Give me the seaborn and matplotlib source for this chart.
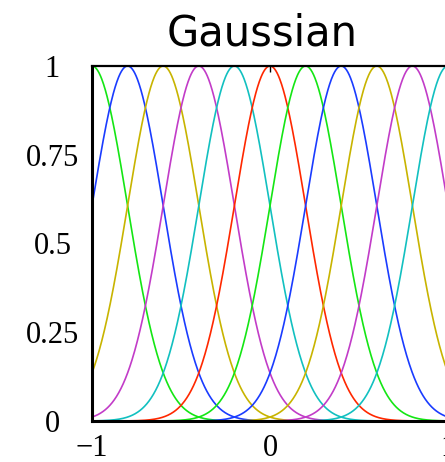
import numpy as np
import pandas as pd
import matplotlib
matplotlib.use("Agg")
import matplotlib.pyplot as plt
import seaborn as sns

# Chart data: Gaussian basis functions
centers = [-1.0, -0.8, -0.6, -0.4, -0.2, 0.0, 0.2, 0.4, 0.6, 0.8, 1.0]
sigma = 0.2
colors = ['#14e614', '#1a3cff', '#c8b400', '#c23cc8', '#12c0c0', '#ff2800',
          '#14e614', '#1a3cff', '#c8b400', '#c23cc8', '#12c0c0']
x_ticks = [-1, 0, 1]
x_tick_labels = ['\u22121', '0', '1']
y_ticks = [0, 0.25, 0.5, 0.75, 1]
y_tick_labels = ['0', '0.25', '0.5', '0.75', '1']
title = 'Gaussian'

xs = np.linspace(-1, 1, 801)
rows = []
for i, c in enumerate(centers):
    ys = np.exp(-(xs - c) ** 2 / (2 * sigma ** 2))
    rows.append(pd.DataFrame({'x': xs, 'y': ys, 'basis': f'b{i}'}))
df = pd.concat(rows, ignore_index=True)

sns.set_style('white')
fig = plt.figure(figsize=(4.45, 4.62), dpi=100)
ax = fig.add_axes([92 / 445, 1 - 421 / 462, 356 / 445, 355 / 462])

sns.lineplot(data=df, x='x', y='y', hue='basis', palette=colors,
             legend=False, linewidth=1.2, ax=ax, estimator=None, sort=False)

ax.set_xlim(-1, 1)
ax.set_ylim(0, 1)
ax.set_xticks(x_ticks)
ax.set_xticklabels(x_tick_labels)
ax.set_yticks(y_ticks)
ax.set_yticklabels(y_tick_labels)
ax.set_xlabel('')
ax.set_ylabel('')

for t in ax.get_xticklabels() + ax.get_yticklabels():
    t.set_fontfamily('Liberation Serif')
    t.set_fontsize(22)
    t.set_color('black')
for t in ax.get_yticklabels():
    t.set_horizontalalignment('center')

ax.tick_params(axis='both', direction='in', length=4, width=1, color='black',
               top=True, right=False)
ax.tick_params(axis='y', pad=28.5)
ax.tick_params(axis='x', pad=9)

for side in ['left', 'bottom']:
    ax.spines[side].set_linewidth(2.2)
    ax.spines[side].set_color('black')
ax.spines['top'].set_linewidth(1.6)
ax.spines['top'].set_color('black')
ax.spines['right'].set_linewidth(1.6)
ax.spines['right'].set_color('black')
for s in ax.spines.values():
    s.set_visible(True)

fig.text(0.59, 1 - 45 / 462, title, ha='center', va='baseline',
         fontsize=30, fontfamily='DejaVu Sans', color='black')

fig.savefig('out.png', dpi=100)
